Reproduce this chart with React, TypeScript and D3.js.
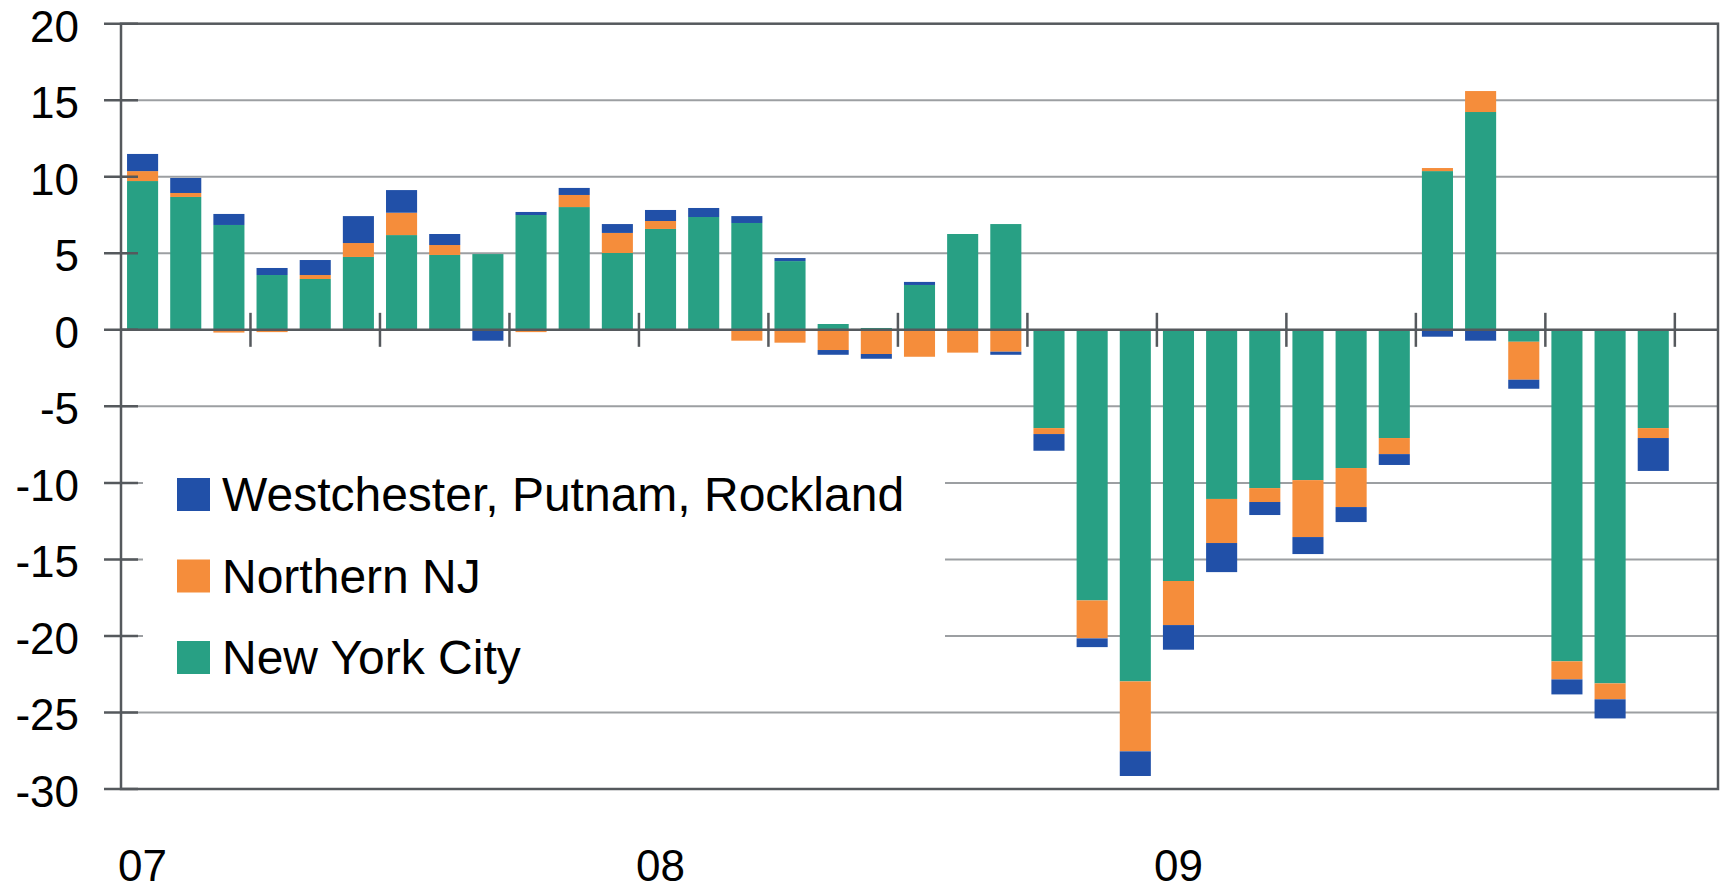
import React, { useRef, useEffect } from "react";
import * as d3 from "d3";

// months on the x axis (the last one has no data)
const months = [
  "Jan 07", "Feb 07", "Mar 07", "Apr 07", "May 07", "Jun 07", "Jul 07", "Aug 07", "Sep 07", "Oct 07", "Nov 07", "Dec 07",
  "Jan 08", "Feb 08", "Mar 08", "Apr 08", "May 08", "Jun 08", "Jul 08", "Aug 08", "Sep 08", "Oct 08", "Nov 08", "Dec 08",
  "Jan 09", "Feb 09", "Mar 09", "Apr 09", "May 09", "Jun 09", "Jul 09", "Aug 09", "Sep 09", "Oct 09", "Nov 09", "Dec 09",
  "Jan 10",
];
const yearLabels = ["07", "08", "09"];
const yearMonths = ["Jan 07", "Jan 08", "Jan 09"];
const yTicks = [20, 15, 10, 5, 0, -5, -10, -15, -20, -25, -30];

const newYorkCity = [
  9.72, 8.68, 6.85, 3.58, 3.32, 4.76, 6.19, 4.89, 4.95, 7.5, 8.02, 5.02,
  6.59, 7.37, 6.98, 4.49, 0.38, 0.12, 2.93, 6.26, 6.91, -6.42, -17.68, -22.97,
  -16.41, -11.05, -10.34, -9.82, -9.03, -7.07, 10.37, 14.23, -0.78, -21.66, -23.1, -6.42,
];
const northernNJ = [
  0.65, 0.26, -0.18, -0.15, 0.26, 0.91, 1.46, 0.65, 0, -0.15, 0.79, 1.31,
  0.52, 0, -0.71, -0.84, -1.32, -1.58, -1.76, -1.49, -1.43, -0.39, -2.48, -4.57,
  -2.88, -2.88, -0.91, -3.72, -2.55, -1.05, 0.2, 1.37, -2.48, -1.18, -1.04, -0.65,
];
const westchester = [
  1.12, 0.98, 0.72, 0.46, 0.98, 1.76, 1.48, 0.72, -0.71, 0.2, 0.46, 0.58,
  0.72, 0.59, 0.45, 0.2, -0.31, -0.31, 0.2, 0, -0.2, -1.09, -0.57, -1.61,
  -1.61, -1.9, -0.85, -1.11, -0.98, -0.71, -0.45, -0.71, -0.59, -0.98, -1.25, -2.15,
];

const keys = ["nyc", "nj", "wpr"];
const seriesNames = ["New York City", "Northern NJ", "Westchester, Putnam, Rockland"];
const seriesColors = ["#28a084", "#f58d3b", "#2150a8"];

const FONT = "'Liberation Sans', Arial, sans-serif";

const App = () => {
  const svgRef = useRef<SVGSVGElement>(null);

  useEffect(() => {
    const svg = d3.select(svgRef.current);
    svg.selectAll("*").remove();

    const left = 121, right = 1718, top = 23.7, bottom = 789;

    const rows = newYorkCity.map((v, i) => ({
      month: months[i],
      nyc: v,
      nj: northernNJ[i],
      wpr: westchester[i],
    }));

    const x = d3.scaleBand().domain(months).range([left, right]).paddingInner(0.28).paddingOuter(0.14);
    const y = d3.scaleLinear().domain([-30, 20]).range([bottom, top]);
    const color = d3.scaleOrdinal<string>().domain(keys).range(seriesColors);

    // gridlines
    svg
      .append("g")
      .selectAll("line")
      .data(yTicks.filter((t) => t !== 0 && t !== 20 && t !== -30))
      .join("line")
      .attr("x1", left)
      .attr("x2", right)
      .attr("y1", (d) => y(d))
      .attr("y2", (d) => y(d))
      .attr("stroke", "#9c9fa2")
      .attr("stroke-width", 2);

    // stacked bars (positives up, negatives down)
    const stacked = d3.stack<any>().keys(keys).offset(d3.stackOffsetDiverging)(rows);
    svg
      .append("g")
      .selectAll("g")
      .data(stacked)
      .join("g")
      .attr("fill", (d) => color(d.key))
      .selectAll("rect")
      .data((d) => d)
      .join("rect")
      .attr("x", (d) => x(d.data.month)!)
      .attr("width", x.bandwidth())
      .attr("y", (d) => y(Math.max(d[0], d[1])))
      .attr("height", (d) => Math.abs(y(d[0]) - y(d[1])));

    const step = x.step();

    // zero line with quarter ticks
    svg
      .append("line")
      .attr("x1", left)
      .attr("x2", right)
      .attr("y1", y(0))
      .attr("y2", y(0))
      .attr("stroke", "#55595d")
      .attr("stroke-width", 2.5);
    svg
      .append("g")
      .selectAll("line")
      .data(d3.range(3, months.length, 3))
      .join("line")
      .attr("x1", (i) => left + i * step)
      .attr("x2", (i) => left + i * step)
      .attr("y1", y(0) - 17)
      .attr("y2", y(0) + 17)
      .attr("stroke", "#55595d")
      .attr("stroke-width", 2.5);

    // frame
    svg
      .append("rect")
      .attr("x", left)
      .attr("y", top)
      .attr("width", right - left)
      .attr("height", bottom - top)
      .attr("fill", "none")
      .attr("stroke", "#55595d")
      .attr("stroke-width", 2.5);

    // y axis ticks + labels
    const yAxis = svg.append("g");
    yAxis
      .selectAll("line")
      .data(yTicks)
      .join("line")
      .attr("x1", left - 17)
      .attr("x2", left + 17)
      .attr("y1", (d) => y(d))
      .attr("y2", (d) => y(d))
      .attr("stroke", "#55595d")
      .attr("stroke-width", 2.5);
    yAxis
      .selectAll("text")
      .data(yTicks)
      .join("text")
      .attr("x", 79)
      .attr("y", (d) => y(d) + 18)
      .attr("text-anchor", "end")
      .style("font-family", FONT)
      .style("font-size", "44px")
      .attr("fill", "#000")
      .text((d) => d);

    // year labels
    svg
      .append("g")
      .selectAll("text")
      .data(yearLabels)
      .join("text")
      .attr("x", (d, i) => x(yearMonths[i])! + x.bandwidth() / 2)
      .attr("y", 881)
      .attr("text-anchor", "middle")
      .style("font-family", FONT)
      .style("font-size", "44px")
      .attr("fill", "#000")
      .text((d) => d);

    // legend
    const legend = svg.append("g");
    legend
      .append("rect")
      .attr("x", 143)
      .attr("y", 420)
      .attr("width", 802)
      .attr("height", 280)
      .attr("fill", "#fff");
    const order = [2, 1, 0];
    const item = legend
      .selectAll("g")
      .data(order)
      .join("g")
      .attr("transform", (d, i) => `translate(177, ${478 + i * 81.5})`);
    item
      .append("rect")
      .attr("width", 33)
      .attr("height", 33)
      .attr("fill", (d) => seriesColors[d]);
    item
      .append("text")
      .attr("x", 45)
      .attr("y", 33)
      .style("font-family", FONT)
      .style("font-size", "48px")
      .attr("fill", "#000")
      .text((d) => seriesNames[d]);
  }, []);

  return (
    <div style={{ position: "absolute", left: 0, top: 0, background: "#fff" }}>
      <svg ref={svgRef} width={1723} height={885} style={{ display: "block" }}></svg>
    </div>
  );
};

export default App;
